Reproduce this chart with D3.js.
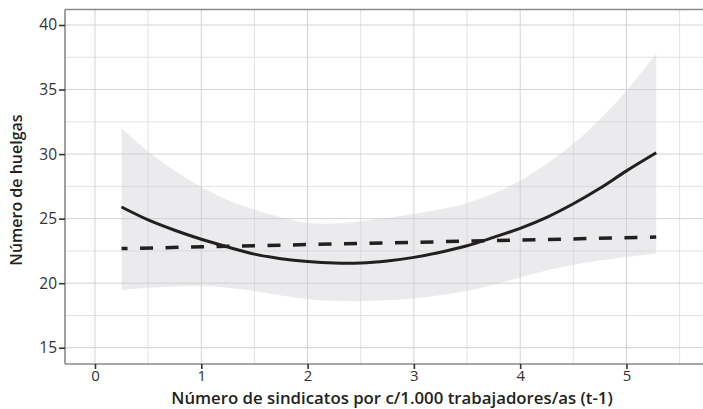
<!DOCTYPE html>
<html>
<head>
<meta charset="utf-8">
<script src="https://cdn.jsdelivr.net/npm/d3@7"></script>
<style>
  html, body { margin: 0; padding: 0; background: #fff; }
  svg { display: block; }
  text { font-family: "Open Sans", "Lato", sans-serif; }
</style>
</head>
<body>
<svg id="chart" width="703" height="409"></svg>
<script>
// Predictor: unions per 1,000 workers (lagged)
const xGrid = [0.25, 0.5, 0.75, 1.0, 1.25, 1.5, 1.75, 2.0, 2.25, 2.5, 2.75, 3.0, 3.25, 3.5, 3.75, 4.0, 4.25, 4.5, 4.75, 5.0, 5.28];
// Quadratic fit (solid line)
const fitQuadratic = [25.9, 24.9, 24.1, 23.4, 22.8, 22.25, 21.9, 21.68, 21.56, 21.56, 21.72, 22.0, 22.4, 22.9, 23.55, 24.25, 25.1, 26.15, 27.35, 28.7, 30.1];
// Confidence band of the quadratic fit
const bandUpper = [32.0, 30.2, 28.7, 27.45, 26.45, 25.7, 25.1, 24.68, 24.62, 24.8, 25.05, 25.35, 25.72, 26.2, 26.95, 27.95, 29.25, 30.8, 32.7, 34.9, 37.8];
const bandLower = [19.47, 19.64, 19.75, 19.78, 19.65, 19.4, 19.05, 18.78, 18.63, 18.6, 18.67, 18.83, 19.07, 19.4, 19.88, 20.45, 20.98, 21.42, 21.75, 22.02, 22.3];
// Linear fit (dashed line)
const linearX = [0.25, 5.28];
const fitLinear = [22.68, 23.57];

// Axis ticks
const xTicks = [0, 1, 2, 3, 4, 5];
const yTicks = [15, 20, 25, 30, 35, 40];
const xMinor = [0.5, 1.5, 2.5, 3.5, 4.5, 5.5];
const yMinor = [17.5, 22.5, 27.5, 32.5, 37.5];

const xTitle = "Número de sindicatos por c/1.000 trabajadores/as (t-1)";
const yTitle = "Número de huelgas";

const svg = d3.select("#chart");
const panel = { left: 65, right: 703, top: 9.5, bottom: 364 };

const x = d3.scaleLinear().domain([-0.282, 5.72]).range([panel.left, panel.right]);
const y = d3.scaleLinear().domain([13.74, 41.2]).range([panel.bottom, panel.top]);

// Grid
const grid = svg.append("g");
grid.selectAll(".vminor").data(xMinor).join("line")
  .attr("x1", d => x(d)).attr("x2", d => x(d))
  .attr("y1", panel.top).attr("y2", panel.bottom)
  .attr("stroke", "#e2e2e2").attr("stroke-width", 1);
grid.selectAll(".hminor").data(yMinor).join("line")
  .attr("y1", d => y(d)).attr("y2", d => y(d))
  .attr("x1", panel.left).attr("x2", panel.right)
  .attr("stroke", "#e2e2e2").attr("stroke-width", 1);
grid.selectAll(".vmajor").data(xTicks).join("line")
  .attr("x1", d => x(d)).attr("x2", d => x(d))
  .attr("y1", panel.top).attr("y2", panel.bottom)
  .attr("stroke", "#d2d2d2").attr("stroke-width", 1);
grid.selectAll(".hmajor").data(yTicks).join("line")
  .attr("y1", d => y(d)).attr("y2", d => y(d))
  .attr("x1", panel.left).attr("x2", panel.right)
  .attr("stroke", "#d2d2d2").attr("stroke-width", 1);

// Confidence band
const bandData = xGrid.map((v, i) => ({ x: v, lo: bandLower[i], hi: bandUpper[i] }));
svg.append("path")
  .datum(bandData)
  .attr("d", d3.area().x(d => x(d.x)).y0(d => y(d.lo)).y1(d => y(d.hi)).curve(d3.curveCatmullRom))
  .attr("fill", "#cfcfd4").attr("fill-opacity", 0.42);

// Linear fit
svg.append("path")
  .datum(linearX.map((v, i) => ({ x: v, y: fitLinear[i] })))
  .attr("d", d3.line().x(d => x(d.x)).y(d => y(d.y)))
  .attr("fill", "none").attr("stroke", "#231f20")
  .attr("stroke-width", 3.5)
  .attr("stroke-dasharray", "13,12.5")
  .attr("stroke-dashoffset", 7);

// Quadratic fit
svg.append("path")
  .datum(xGrid.map((v, i) => ({ x: v, y: fitQuadratic[i] })))
  .attr("d", d3.line().x(d => x(d.x)).y(d => y(d.y)).curve(d3.curveCatmullRom))
  .attr("fill", "none").attr("stroke", "#231f20")
  .attr("stroke-width", 3);

// Panel lines
const frame = svg.append("g").attr("stroke", "#8a8a8a").attr("stroke-width", 1.6);
frame.append("line").attr("x1", panel.left).attr("x2", panel.left).attr("y1", panel.top).attr("y2", panel.bottom);
frame.append("line").attr("x1", panel.left).attr("x2", panel.right).attr("y1", panel.bottom).attr("y2", panel.bottom);
frame.append("line").attr("x1", panel.left).attr("x2", panel.right).attr("y1", panel.top).attr("y2", panel.top);

// Axes
const xAxis = svg.append("g")
  .attr("transform", `translate(0,${panel.bottom})`)
  .call(d3.axisBottom(x).tickValues(xTicks).tickSize(5).tickPadding(1).tickFormat(d3.format("d")));
const yAxis = svg.append("g")
  .attr("transform", `translate(${panel.left},0)`)
  .call(d3.axisLeft(y).tickValues(yTicks).tickSize(6).tickPadding(2).tickFormat(d3.format("d")));
[xAxis, yAxis].forEach(a => {
  a.select(".domain").remove();
  a.selectAll(".tick line").attr("stroke", "#333").attr("stroke-width", 1.6);
  a.selectAll(".tick text").attr("fill", "#333").style("font-size", "15.5px").style("font-family", "'Open Sans', sans-serif");
});
xAxis.selectAll(".tick text").style("font-size", "15px");

// Axis titles
svg.append("text")
  .attr("x", 392).attr("y", 404)
  .attr("text-anchor", "middle")
  .attr("fill", "#231f20")
  .style("font-size", "16.8px").style("font-weight", 600)
  .text(xTitle);
svg.append("text")
  .attr("transform", `translate(22,190) rotate(-90)`)
  .attr("text-anchor", "middle")
  .attr("fill", "#231f20")
  .style("font-size", "16px").style("font-weight", 600)
  .text(yTitle);
</script>
</body>
</html>
